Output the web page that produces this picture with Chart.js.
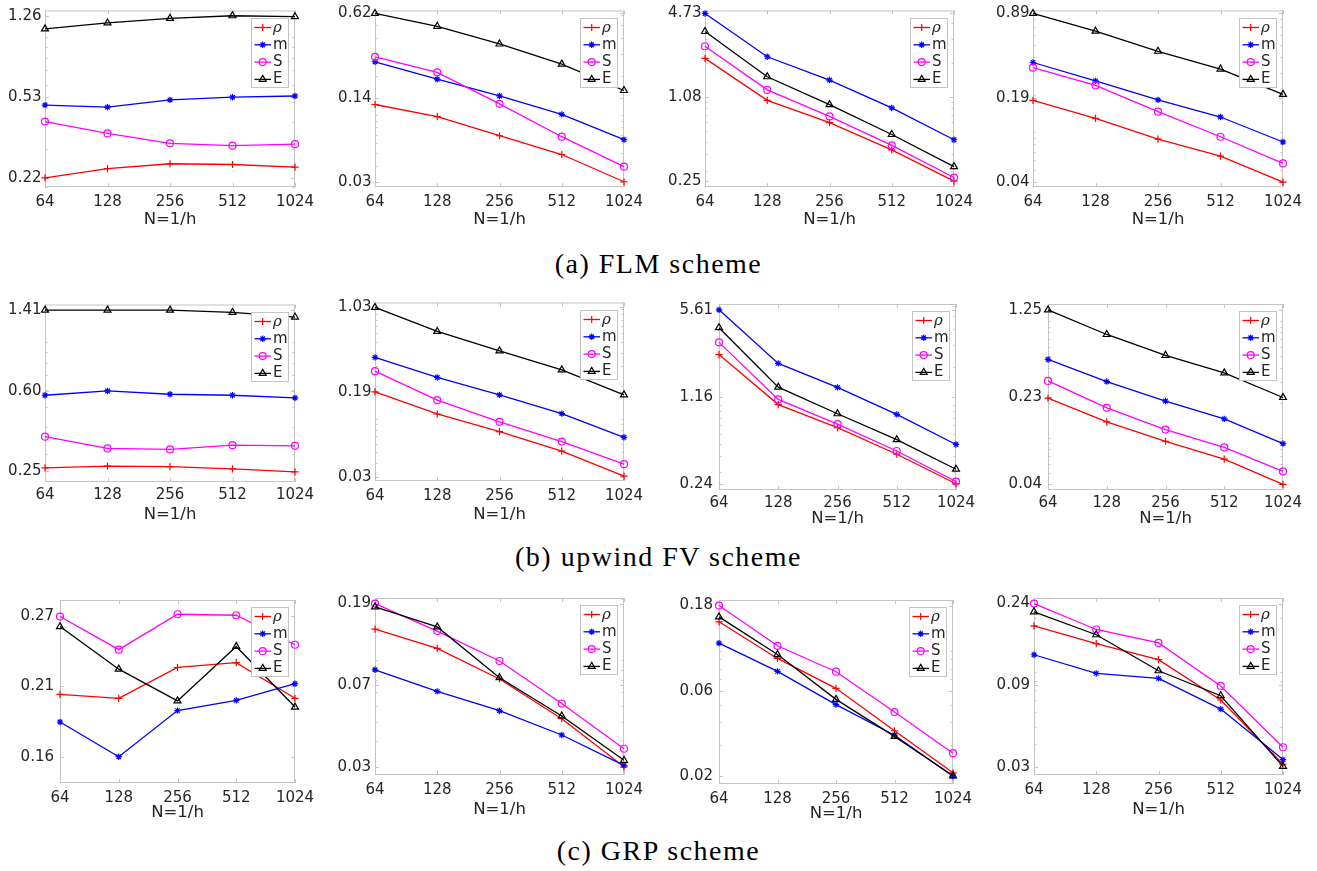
<!DOCTYPE html>
<html><head><meta charset="utf-8">
<script src="https://cdn.jsdelivr.net/npm/chart.js@4.4.1/dist/chart.umd.min.js"></script>
<style>
html,body{margin:0;padding:0;background:#fff;}
body{width:1317px;height:871px;overflow:hidden;position:relative;}
canvas{position:absolute;}
.cap{position:absolute;left:0;width:1317px;text-align:center;font-family:'Liberation Serif','DejaVu Serif',serif;font-size:28px;letter-spacing:1.5px;color:#000;line-height:32px;white-space:nowrap;}
</style></head><body>
<script>
// ---------------- DATA ----------------
const N_LABELS = ['64', '128', '256', '512', '1024'];
const SERIES_NAMES = ['ρ', 'm', 'S', 'E'];
const CAPTIONS = ['(a) FLM scheme', '(b) upwind FV scheme', '(c) GRP scheme'];
const X_TITLE = 'N=1/h';

// (a) FLM scheme: one row per test (4 panels)
const FLM_rho = [[0.220, 0.243, 0.256, 0.254, 0.247], [0.1205, 0.0968, 0.0687, 0.0490, 0.0300], [2.15, 1.03, 0.696, 0.432, 0.250], [0.180, 0.129, 0.0883, 0.0644, 0.040]];
const FLM_m   = [[0.481, 0.471, 0.509, 0.524, 0.531], [0.260, 0.190, 0.1405, 0.1009, 0.064], [4.73, 2.213, 1.471, 0.902, 0.516], [0.361, 0.2576, 0.1814, 0.1324, 0.0836]];
const FLM_S   = [[0.403, 0.355, 0.319, 0.311, 0.316], [0.284, 0.215, 0.1219, 0.0675, 0.0394], [2.66, 1.238, 0.777, 0.468, 0.266], [0.328, 0.2367, 0.146, 0.0921, 0.0564]];
const FLM_E   = [[1.094, 1.166, 1.225, 1.260, 1.247], [0.620, 0.492, 0.358, 0.249, 0.155], [3.447, 1.559, 0.956, 0.566, 0.322], [0.890, 0.642, 0.444, 0.320, 0.201]];
const FLM_ticks = [['0.22', '0.53', '1.26'], ['0.03', '0.14', '0.62'], ['0.25', '1.08', '4.73'], ['0.04', '0.19', '0.89']];

// (b) upwind FV scheme
const FV_rho = [[0.259, 0.2636, 0.2627, 0.2563, 0.248], [0.1763, 0.1113, 0.0769, 0.0513, 0.0304], [2.50, 1.014, 0.669, 0.414, 0.243], [0.219, 0.1375, 0.0937, 0.0659, 0.040]];
const FV_m   = [[0.565, 0.5916, 0.571, 0.565, 0.549], [0.363, 0.2387, 0.1659, 0.1121, 0.0684], [5.61, 2.134, 1.384, 0.850, 0.494], [0.470, 0.304, 0.207, 0.1457, 0.0895]];
const FV_S   = [[0.362, 0.319, 0.3157, 0.3305, 0.328], [0.272, 0.1486, 0.0944, 0.0626, 0.039], [3.12, 1.114, 0.714, 0.439, 0.253], [0.308, 0.181, 0.1179, 0.083, 0.0517]];
const FV_E   = [[1.41, 1.41, 1.41, 1.376, 1.309], [1.03, 0.624, 0.416, 0.2795, 0.166], [4.065, 1.39, 0.860, 0.539, 0.316], [1.25, 0.769, 0.51, 0.361, 0.222]];
const FV_ticks = [['0.25', '0.60', '1.41'], ['0.03', '0.19', '1.03'], ['0.24', '1.16', '5.61'], ['0.04', '0.23', '1.25']];

// (c) GRP scheme
const GRP_rho = [[0.2018, 0.1989, 0.2231, 0.2272, 0.1989], [0.1423, 0.1144, 0.081, 0.0517, 0.030], [0.146, 0.0911, 0.062, 0.0359, 0.0209], [0.1807, 0.1442, 0.1175, 0.0703, 0.031]];
const GRP_m   = [[0.1821, 0.160, 0.190, 0.1974, 0.210], [0.0899, 0.0704, 0.0566, 0.043, 0.0305], [0.1109, 0.0771, 0.0503, 0.0339, 0.020], [0.1251, 0.0986, 0.0926, 0.0626, 0.0329]];
const GRP_S   = [[0.2697, 0.2384, 0.272, 0.271, 0.2428], [0.190, 0.1392, 0.0993, 0.0614, 0.0368], [0.180, 0.1072, 0.0768, 0.0457, 0.0269], [0.240, 0.1726, 0.1454, 0.0841, 0.0385]];
const GRP_E   = [[0.2598, 0.2217, 0.197, 0.2413, 0.1925], [0.1831, 0.146, 0.0822, 0.0533, 0.0323], [0.1555, 0.0958, 0.0538, 0.0334, 0.0201], [0.2162, 0.1614, 0.102, 0.0742, 0.0302]];
const GRP_ticks = [['0.16', '0.21', '0.27'], ['0.03', '0.07', '0.19'], ['0.02', '0.06', '0.18'], ['0.03', '0.09', '0.24']];

// ---------------- LAYOUT (pixels) ----------------
// [left, top, right, bottom, yTopTick, yBottomTick, xTickPad, xTitleGap, yTickPad]
const LAYOUT = [
  [[45, 8, 295, 187, 13.3, 177.7, 5.7, 33, 3.5], [375, 8, 624, 187, 11, 181.7, 5.7, 33, 3.5], [705, 8, 954, 187, 11, 181, 5.7, 33, 3.5], [1033, 8, 1283, 187, 11, 182, 5.7, 33, 3.5]],
  [[45, 302, 295, 482, 307.7, 471, 4.5, 33, 3.5], [375, 300, 624, 481, 305, 476.7, 5.7, 34, 3.5], [719, 299, 956, 490, 305, 484.3, 4.3, 28.5, 6], [1048, 299, 1283, 490, 305, 484.3, 4.3, 28.5, 6]],
  [[60, 595, 295, 783, 611.7, 756, 6, 30, 6], [375, 595, 624, 775, 600.7, 766.7, 6, 35, 4], [719, 595, 953, 784, 600.7, 776, 6, 30, 6], [1034, 595, 1283, 775, 600.7, 766.7, 6, 35, 4]]
];
const CAPTION_Y = [264, 557, 851];

const STYLE = [
  {color: '#ff0000', pointStyle: 'cross', r: 3.6},
  {color: '#0000ff', pointStyle: 'star', r: 3.2},
  {color: '#ff00ff', pointStyle: 'circle', r: 3.5},
  {color: '#000000', pointStyle: 'triangle', r: 4}
];
const AXIS_COLOR = '#c4c4c4';
const TEXT_COLOR = '#262626';
const TICK_FONT = 15, TITLE_FONT = 16.5;

Chart.defaults.font.family = "'DejaVu Sans', sans-serif";
Chart.defaults.font.size = TICK_FONT;

const decorPlugin = {
  id: 'decor',
  beforeDatasetsDraw(chart) {
    const ctx = chart.ctx, a = chart.chartArea, ys = chart.scales.y, xs = chart.scales.x;
    ctx.save();
    ctx.strokeStyle = AXIS_COLOR;
    ctx.lineWidth = 1;
    ctx.strokeRect(a.left + 0.5, a.top + 0.5, a.right - a.left - 1, a.bottom - a.top - 1);
    ctx.beginPath();
    const lo = Math.floor(Math.log10(ys.min)), hi = Math.floor(Math.log10(ys.max));
    for (let n = lo; n <= hi; n++) {
      for (let k = 1; k <= 9; k++) {
        const v = k * Math.pow(10, n);
        if (v <= ys.min || v >= ys.max) continue;
        const py = Math.round(ys.getPixelForValue(v)) + 0.5;
        ctx.moveTo(a.left, py); ctx.lineTo(a.left + 2.5, py);
        ctx.moveTo(a.right, py); ctx.lineTo(a.right - 2.5, py);
      }
    }
    ys.ticks.forEach(t => {
      const py = Math.round(ys.getPixelForValue(t.value)) + 0.5;
      ctx.moveTo(a.left, py); ctx.lineTo(a.left + 4, py);
      ctx.moveTo(a.right, py); ctx.lineTo(a.right - 4, py);
    });
    N_LABELS.forEach((_, i) => {
      const px = Math.round(xs.getPixelForValue(i)) + 0.5;
      ctx.moveTo(px, a.bottom); ctx.lineTo(px, a.bottom - 4);
      ctx.moveTo(px, a.top); ctx.lineTo(px, a.top + 4);
    });
    ctx.stroke();
    ctx.restore();
  },
  afterDatasetsDraw(chart) {
    const ctx = chart.ctx, a = chart.chartArea;
    const bw = 37, bh = 69;
    const bx = Math.round(a.right - 7 - bw), by = Math.round(a.top + 7);
    ctx.save();
    ctx.fillStyle = '#ffffff';
    ctx.fillRect(bx, by, bw, bh);
    ctx.strokeStyle = AXIS_COLOR;
    ctx.lineWidth = 1;
    ctx.strokeRect(bx + 0.5, by + 0.5, bw, bh);
    chart.data.datasets.forEach((ds, i) => {
      const cy = by + 9.5 + i * 17.3;
      ctx.strokeStyle = ds.borderColor;
      ctx.lineWidth = ds.borderWidth;
      ctx.beginPath(); ctx.moveTo(bx + 3.5, cy); ctx.lineTo(bx + 20, cy); ctx.stroke();
      ctx.fillStyle = 'rgba(0,0,0,0)';
      ctx.lineWidth = ds.pointBorderWidth;
      Chart.helpers.drawPoint(ctx, {pointStyle: ds.pointStyle, radius: ds.pointRadius, rotation: 0, borderWidth: ds.pointBorderWidth}, bx + 11.7, cy);
      ctx.fillStyle = TEXT_COLOR;
      ctx.textBaseline = 'middle';
      ctx.textAlign = 'left';
      ctx.font = i === 0 ? "italic 15px 'DejaVu Serif'" : "15px 'DejaVu Sans'";
      ctx.fillText(ds.label, bx + 22, cy + (i === 0 ? 1 : 0));
    });
    ctx.restore();
  }
};

function makePanel(series, tickLabels, lay) {
  const [L, T, R, B, yT, yB, xp, tg, yp] = lay;
  const YW = 50, PT = 10, PR = 26, PB = 4;
  const xh = tg + TITLE_FONT * 0.6;
  const w = (R - L) + YW + PR, h = Math.ceil(PT + (B - T) + xh + PB);
  const cv = document.createElement('canvas');
  cv.width = w; cv.height = h;
  cv.style.left = (L - YW) + 'px'; cv.style.top = (T - PT) + 'px';
  cv.style.width = w + 'px'; cv.style.height = h + 'px';
  document.body.appendChild(cv);
  const tv = tickLabels.map(Number);
  const tmin = tv[0], tmax = tv[2], tmid = Math.sqrt(tmin * tmax);
  const dpp = Math.log10(tmax / tmin) / (yB - yT);
  const ymax = tmax * Math.pow(10, (yT - T) * dpp);
  const ymin = tmin / Math.pow(10, (B - yB) * dpp);
  new Chart(cv, {
    type: 'line',
    data: {
      labels: N_LABELS,
      datasets: series.map((d, i) => ({
        label: SERIES_NAMES[i], data: d,
        borderColor: STYLE[i].color, backgroundColor: 'rgba(0,0,0,0)',
        pointStyle: STYLE[i].pointStyle, pointRadius: STYLE[i].r,
        pointBorderColor: STYLE[i].color, pointBackgroundColor: 'rgba(0,0,0,0)',
        pointBorderWidth: 1.2, borderWidth: 1.3, tension: 0, clip: false, order: 4 - i
      }))
    },
    options: {
      responsive: false, animation: false, devicePixelRatio: 1,
      layout: {padding: {left: 0, top: PT, right: PR, bottom: h - PT - (B - T) - xh}},
      plugins: {legend: {display: false}, tooltip: {enabled: false}},
      scales: {
        x: {
          type: 'category', offset: false,
          grid: {display: false, drawTicks: false}, border: {display: false},
          ticks: {padding: xp, color: TEXT_COLOR, maxRotation: 0, autoSkip: false, font: {size: TICK_FONT}},
          title: {display: true, text: X_TITLE, color: TEXT_COLOR, font: {size: TITLE_FONT}, padding: {top: 0, bottom: 0}},
          afterFit: s => { s.height = xh; }
        },
        y: {
          type: 'logarithmic', min: ymin, max: ymax, bounds: 'data',
          grid: {display: false, drawTicks: false}, border: {display: false},
          ticks: {padding: yp, color: TEXT_COLOR, autoSkip: false, font: {size: TICK_FONT}, callback: (v, i) => tickLabels[i]},
          afterBuildTicks: s => { s.ticks = [{value: tmin}, {value: tmid}, {value: tmax}]; },
          afterFit: s => { s.width = YW; }
        }
      }
    },
    plugins: [decorPlugin]
  });
}

const SCHEMES = [
  [FLM_rho, FLM_m, FLM_S, FLM_E, FLM_ticks],
  [FV_rho, FV_m, FV_S, FV_E, FV_ticks],
  [GRP_rho, GRP_m, GRP_S, GRP_E, GRP_ticks]
];
SCHEMES.forEach((sc, r) => {
  for (let p = 0; p < 4; p++) {
    makePanel([sc[0][p], sc[1][p], sc[2][p], sc[3][p]], sc[4][p], LAYOUT[r][p]);
  }
  const d = document.createElement('div');
  d.className = 'cap';
  d.style.top = (CAPTION_Y[r] - 16) + 'px';
  d.textContent = CAPTIONS[r];
  document.body.appendChild(d);
});
</script>
</body></html>
